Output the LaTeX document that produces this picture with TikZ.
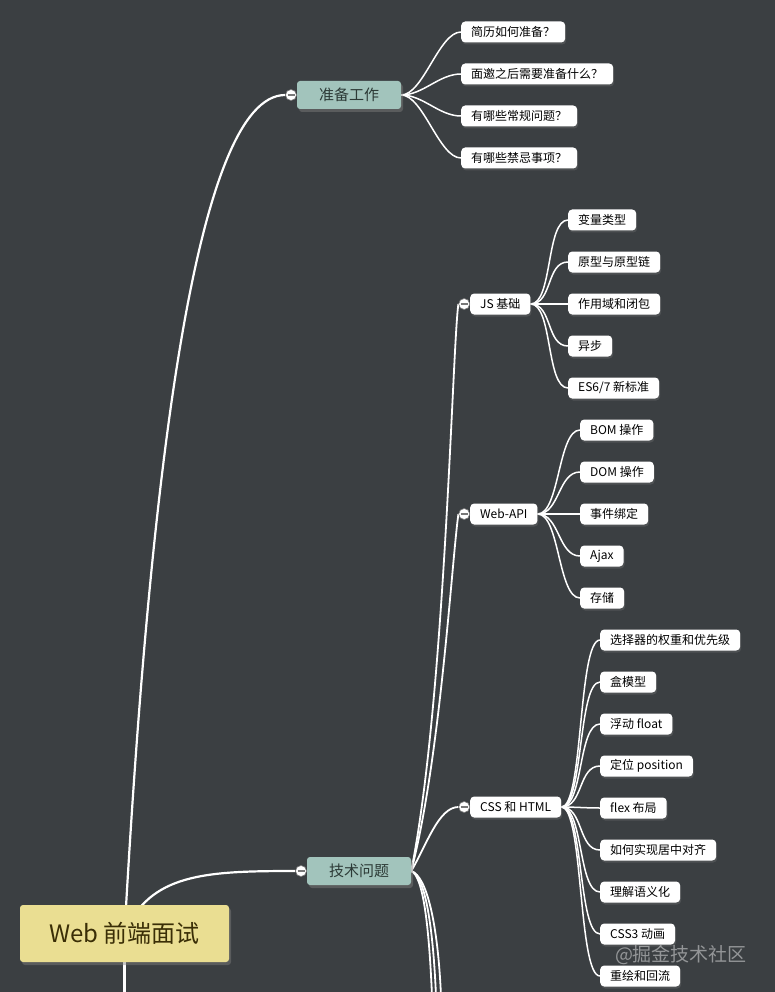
\documentclass[tikz,border=0pt]{standalone}
\usepackage{fontspec}
\setmainfont{Noto Sans CJK SC}
\usepackage{tikz}
\usetikzlibrary{positioning}
\usetikzlibrary{shadows}
\definecolor{bgGrey}{RGB}{59,63,66}
\definecolor{rootYellow}{RGB}{234,222,146}
\definecolor{rootText}{RGB}{58,46,6}
\definecolor{mainTeal}{RGB}{162,196,188}
\definecolor{mainText}{RGB}{44,58,54}
\definecolor{foldGrey}{RGB}{120,120,120}
\pgfdeclarelayer{wires}
\pgfsetlayers{wires,main}
\tikzset{
	rootbox/.style={rectangle, rounded corners=3pt, fill=rootYellow, text=rootText, minimum width=209pt, minimum height=57pt, font=\fontsize{24}{28}\selectfont, drop shadow={shadow xshift=2pt, shadow yshift=-3pt, opacity=.45}},
	mainbox/.style={rectangle, rounded corners=3pt, fill=mainTeal, text=mainText, minimum width=104pt, minimum height=28pt, font=\fontsize{15}{18}\selectfont, drop shadow={shadow xshift=2pt, shadow yshift=-3pt, opacity=.45}},
	leafbox/.style={rectangle, rounded corners=4pt, fill=white, text=black, anchor=west, minimum height=21pt, inner xsep=10pt, inner ysep=0pt, font=\fontsize{12}{14}\selectfont, drop shadow={shadow xshift=1pt, shadow yshift=-2pt, opacity=.3}},
	fold/.style={circle, fill=white, draw=foldGrey, line width=.6pt, minimum size=11pt, inner sep=0pt, path picture={\draw[foldGrey, line width=1.2pt] ([xshift=-3.5pt]path picture bounding box.center) -- ([xshift=3.5pt]path picture bounding box.center);}},
	stamp/.style={text=white, opacity=.45, font=\fontsize{19}{22}\selectfont},
	trunk/.style={draw=white, line width=2.2pt},
	branch/.style={draw=white, line width=1.8pt},
	twig/.style={draw=white, line width=1.5pt, out=0, in=180, max distance=22pt},
}
\begin{document}
\begin{tikzpicture}[x=1pt, y=-1pt]
				% Nodes:
				\useasboundingbox (0,0) rectangle (775,992);
				\node[rootbox] (web) at (124.5,933.5){Web 前端面试};
				\node[mainbox] (prep) at (349,95){准备工作};
				\node[fold, left=0pt of prep] (prepFold){};
				\node[mainbox] (tech) at (359,871){技术问题};
				\node[fold, left=0pt of tech] (techFold){};
				\node[leafbox] (resume) at (461,32){简历如何准备？};
				\node[leafbox] (invite) at (461,74){面邀之后需要准备什么？};
				\node[leafbox] (usual) at (461,116){有哪些常规问题？};
				\node[leafbox] (taboo) at (461,158){有哪些禁忌事项？};
				\node[leafbox] (js) at (470,304){JS 基础};
				\node[fold, left=0pt of js] (jsFold){};
				\node[leafbox] (api) at (470,514){Web-API};
				\node[fold, left=0pt of api] (apiFold){};
				\node[leafbox] (css) at (470,807){CSS 和 HTML};
				\node[fold, left=0pt of css] (cssFold){};
				\node[leafbox] (types) at (568,220){变量类型};
				\node[leafbox] (proto) at (568,262){原型与原型链};
				\node[leafbox] (scope) at (568,304){作用域和闭包};
				\node[leafbox] (async) at (568,346){异步};
				\node[leafbox] (esNew) at (568,388){ES6/7 新标准};
				\node[leafbox] (bom) at (580,430){BOM 操作};
				\node[leafbox] (dom) at (580,472){DOM 操作};
				\node[leafbox] (events) at (580,514){事件绑定};
				\node[leafbox] (ajax) at (580,556){Ajax};
				\node[leafbox] (storage) at (580,598){存储};
				\node[leafbox] (selector) at (600,640){选择器的权重和优先级};
				\node[leafbox] (boxModel) at (600,682){盒模型};
				\node[leafbox] (float) at (600,724){浮动 float};
				\node[leafbox] (position) at (600,766){定位 position};
				\node[leafbox] (flex) at (600,808){flex 布局};
				\node[leafbox] (center) at (600,850){如何实现居中对齐};
				\node[leafbox] (semantic) at (600,892){理解语义化};
				\node[leafbox] (anim) at (600,934){CSS3 动画};
				\node[leafbox] (reflow) at (600,976){重绘和回流};
				\node[stamp] (stampText) at (681,955){@掘金技术社区};
				\coordinate (rootDown) at (124.5,996);
				\coordinate (down1) at (432,996);
				\coordinate (down2) at (436,996);
				\coordinate (down3) at (441,996);
				% Wires:
				\begin{pgfonlayer}{wires}
				\fill[bgGrey] (0,0) rectangle (775,992);
				\draw[trunk] (web.center) .. controls +(25,-450) and +(-90.5,0) .. (prepFold.west);
				\draw[trunk] (web.center) .. controls +(25,-60) and +(-90,0) .. (techFold.west);
				\draw[trunk] (web.south) -- (rootDown);
				\draw[branch] (tech.east) .. controls +(34,-171) and +(-6,40) .. (jsFold.west);
				\draw[branch] (tech.east) .. controls +(29,-111) and +(-6.5,46) .. (apiFold.west);
				\draw[branch] (tech.east) .. controls +(15,-25) and +(-20,0) .. (cssFold.west);
				\draw[branch] (tech.east) .. controls +(12,5) and +(-3,-70) .. (down1);
				\draw[branch] (tech.east) .. controls +(14,5) and +(-3,-70) .. (down2);
				\draw[branch] (tech.east) .. controls +(16,5) and +(-3,-70) .. (down3);
				\draw[twig] (prep.east) to (resume.west);
				\draw[twig] (prep.east) to (invite.west);
				\draw[twig] (prep.east) to (usual.west);
				\draw[twig] (prep.east) to (taboo.west);
				\draw[twig] (js.east) to (types.west);
				\draw[twig] (js.east) to (proto.west);
				\draw[twig] (js.east) to (scope.west);
				\draw[twig] (js.east) to (async.west);
				\draw[twig] (js.east) to (esNew.west);
				\draw[twig] (api.east) to (bom.west);
				\draw[twig] (api.east) to (dom.west);
				\draw[twig] (api.east) to (events.west);
				\draw[twig] (api.east) to (ajax.west);
				\draw[twig] (api.east) to (storage.west);
				\draw[twig] (css.east) to (selector.west);
				\draw[twig] (css.east) to (boxModel.west);
				\draw[twig] (css.east) to (float.west);
				\draw[twig] (css.east) to (position.west);
				\draw[twig] (css.east) to (flex.west);
				\draw[twig] (css.east) to (center.west);
				\draw[twig] (css.east) to (semantic.west);
				\draw[twig] (css.east) to (anim.west);
				\draw[twig] (css.east) to (reflow.west);
				\end{pgfonlayer}
\end{tikzpicture}
\end{document}
